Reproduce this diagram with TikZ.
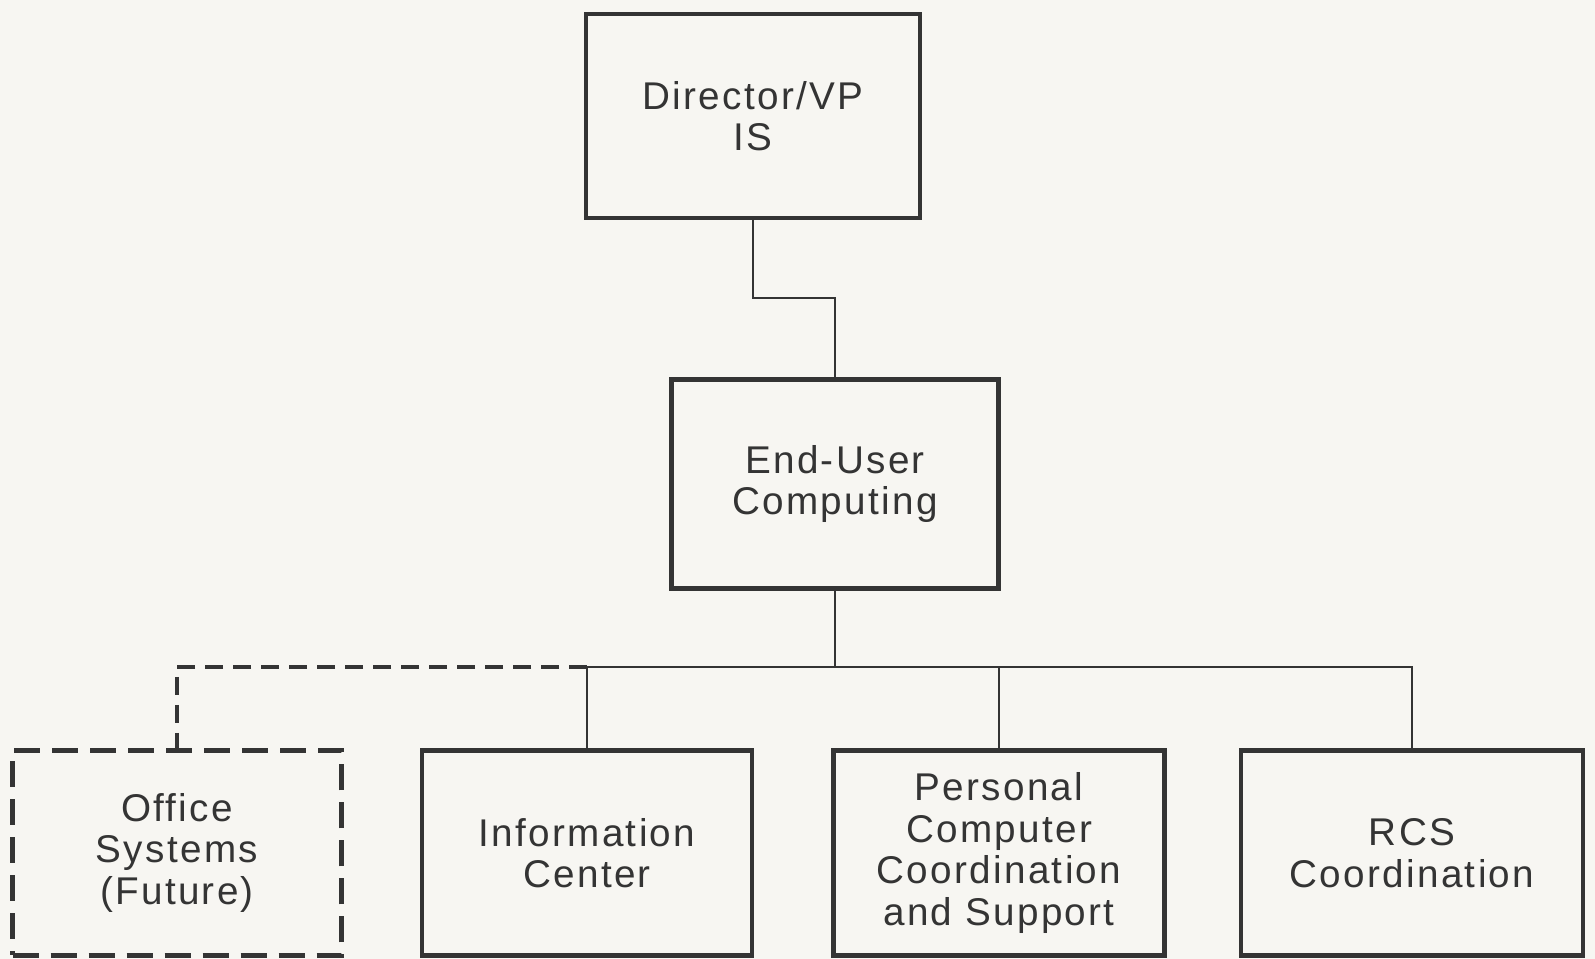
\documentclass[tikz,border=0pt]{standalone}
\usepackage{fontspec}
\newfontfamily\orgfont[LetterSpace=6]{Liberation Sans}
\definecolor{paper}{RGB}{247,246,242}
\definecolor{ink}{RGB}{52,52,52}
\begin{document}
\begin{tikzpicture}[unit/.style = {draw=ink,line width=1.2pt,fill=paper,text=ink,
                        align=center,font={\orgfont\fontsize{11}{11.8}\selectfont},
                        inner sep=0pt},
                    future/.style = {unit,line width=1.6pt,dash pattern=on 2.6mm off 1.2mm},
                    link/.style = {draw=ink,line width=0.8pt}]
                \fill[paper] (0,0) rectangle (15.95,9.59);
                \useasboundingbox (0,0) rectangle (15.95,9.59);

                \node[unit,minimum width=3.34cm,minimum height=2.04cm]
                    (dir) at (7.53,8.43) {Director/VP\\IS};
                \node[unit,minimum width=3.27cm,minimum height=2.09cm]
                    (euc) at (8.35,4.75) {End-User\\Computing};
                \node[future,minimum width=3.29cm,minimum height=2.05cm]
                    (off) at (1.77,1.06) {Office\\Systems\\(Future)};
                \node[unit,minimum width=3.30cm,minimum height=2.05cm]
                    (ic) at (5.87,1.06) {Information\\Center};
                \node[unit,minimum width=3.31cm,minimum height=2.05cm]
                    (pcc) at (9.99,1.06) {Personal\\Computer\\Coordination\\and Support};
                \node[unit,minimum width=3.42cm,minimum height=2.05cm]
                    (rcs) at (14.12,1.06) {RCS\\Coordination};

                \coordinate (jog) at (0,6.61);
                \coordinate (bus) at (0,2.92);

                \draw[link] (dir.south) -- (dir.south |- jog) -| (euc.north);
                \draw[link] (euc.south) -- (euc.south |- bus);
                \draw[link] (ic.north) -- (ic.north |- bus) -- (rcs.north |- bus) -- (rcs.north);
                \draw[link] (pcc.north) -- (pcc.north |- bus);
                \draw[link,line width=1.1pt,dash pattern=on 1.8mm off 1mm]
                    (ic.north |- bus) -| (off.north);
            \end{tikzpicture}
\end{document}
